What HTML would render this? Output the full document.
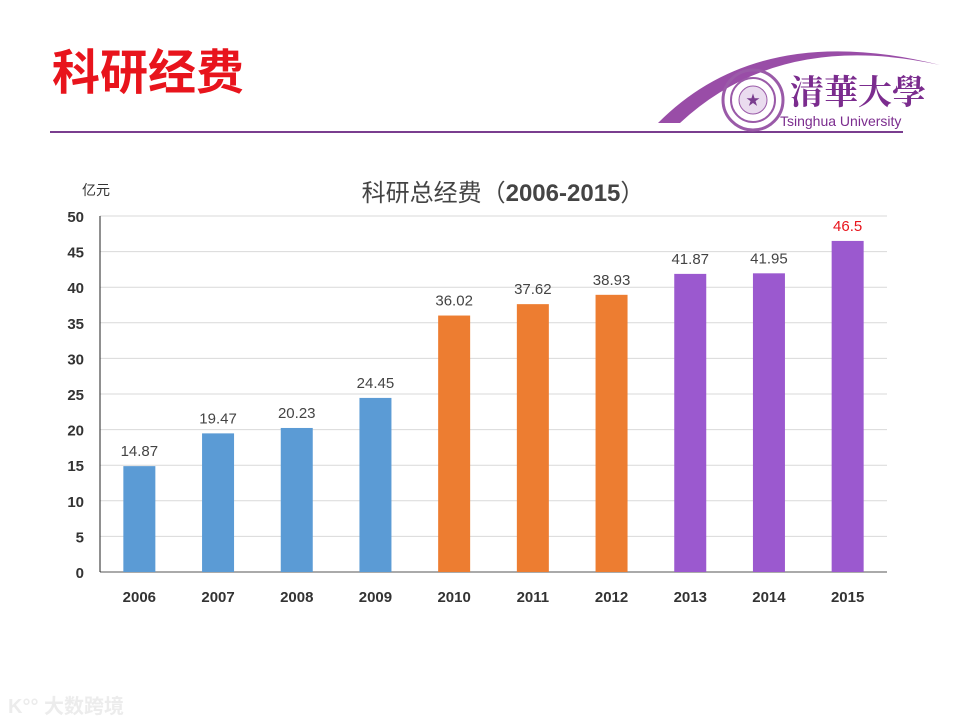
<!DOCTYPE html>
<html><head><meta charset="utf-8">
<style>
body{margin:0;width:960px;height:720px;background:#fff;overflow:hidden;position:relative;font-family:"Liberation Sans","Noto Sans CJK SC",sans-serif}
.abs{position:absolute}
</style></head>
<body>
<div class="abs" style="left:52px;top:36px;font-size:48px;font-weight:bold;color:#e8141c;line-height:64px;font-family:'Noto Sans CJK SC',sans-serif">科研经费</div>
<div class="abs" style="left:50px;top:131px;width:853px;height:2px;background:#7a3d8f"></div>
<svg class="abs" style="left:640px;top:20px" width="310" height="115">
  <path d="M18 103 Q120 0 300 45 Q140 10 40 103 Z" fill="#8e3a9d" opacity="0.9"/>
  <circle cx="113" cy="80" r="30" fill="none" stroke="#9a5aa8" stroke-width="3"/>
  <circle cx="113" cy="80" r="22" fill="none" stroke="#9a5aa8" stroke-width="2"/>
  <circle cx="113" cy="80" r="14" fill="#eadcef" stroke="#9a5aa8"/>
  <text x="113" y="85" font-size="14" text-anchor="middle" fill="#7a3d8f">★</text>
  <text x="150" y="84" font-size="34" fill="#7b2c8e" font-family="Noto Serif CJK SC,serif" font-weight="bold">清華大學</text>
  <text x="140" y="106" font-size="14" fill="#7b2c8e">Tsinghua University</text>
</svg>
<div class="abs" style="left:0;width:1006px;top:173px;text-align:center;font-size:24px;color:#444">科研总经费（<b>2006-2015</b>）</div>
<div class="abs" style="left:82px;top:180px;font-size:14px;color:#333">亿元</div>
<svg id="chart" class="abs" style="left:0;top:0" width="960" height="720"></svg>
<div class="abs" style="left:8px;top:690px;font-size:20px;color:#ececec;font-weight:bold">K°° 大数跨境</div>
<script>
const categories=["2006","2007","2008","2009","2010","2011","2012","2013","2014","2015"];
const values=[14.87,19.47,20.23,24.45,36.02,37.62,38.93,41.87,41.95,46.5];
const labels=["14.87","19.47","20.23","24.45","36.02","37.62","38.93","41.87","41.95","46.5"];
const groups=[0,0,0,0,1,1,1,2,2,2];
const yTicks=[0,5,10,15,20,25,30,35,40,45,50];
const colors=["#5b9bd5","#ed7d31","#9b59cf"];
const svg=document.getElementById('chart');const NS="http://www.w3.org/2000/svg";
const x0=100,x1=887,yb=572,yt=216,ymax=50;
const y=v=>yb-(v/ymax)*(yb-yt);
const bw=(x1-x0)/categories.length;
const xc=i=>x0+bw*(i+0.5);
function el(t,a){const e=document.createElementNS(NS,t);for(const k in a)e.setAttribute(k,a[k]);svg.appendChild(e);return e;}
yTicks.forEach(t=>{
 const g=el('line',{x1:x0,x2:x1,y1:y(t),y2:y(t),stroke:t===0?'#555':'#d9d9d9','stroke-width':1});
 
 
 const tx=el('text',{x:84,y:y(t)+6,'text-anchor':'end','font-size':15,'font-weight':'bold',fill:'#333'});
 tx.textContent=t;
 
 
});
const ax=el('line',{x1:x0,x2:x0,y1:yt,y2:yb,stroke:'#222','stroke-width':1});


values.forEach((v,i)=>{
 const r=el('rect',{x:xc(i)-16,y:y(v),width:32,height:yb-y(v),fill:colors[groups[i]]});
 
 
 const l=el('text',{x:xc(i),y:y(v)-10,'text-anchor':'middle','font-size':15,fill:i===9?'#e8141c':'#444'});
 l.textContent=labels[i];
 
 
 const c=el('text',{x:xc(i),y:602,'text-anchor':'middle','font-size':15,'font-weight':'bold',fill:'#333'});
 c.textContent=categories[i];
 
 
});
</script>
</body></html>
